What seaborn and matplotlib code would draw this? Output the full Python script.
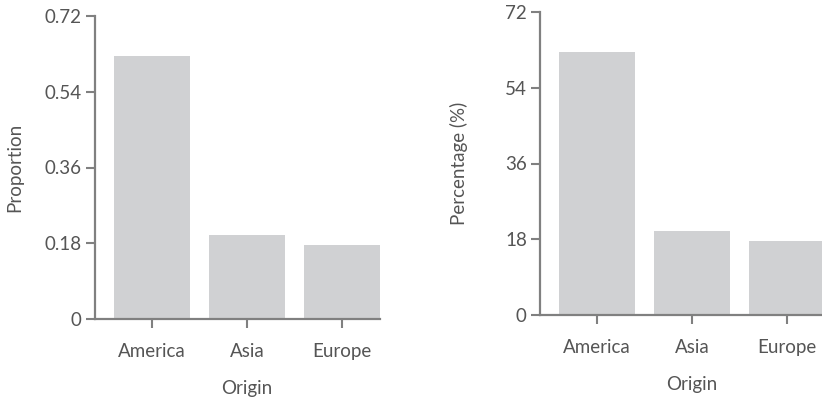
import matplotlib
matplotlib.use("Agg")
import matplotlib.pyplot as plt
import pandas as pd
import seaborn as sns

origins = ["America", "Asia", "Europe"]
proportion = [0.6256, 0.1985, 0.1759]
percentage = [62.56, 19.85, 17.59]

prop_ticks = [0, 0.18, 0.36, 0.54, 0.72]
prop_labels = ["0", "0.18", "0.36", "0.54", "0.72"]
pct_ticks = [0, 18, 36, 54, 72]
pct_labels = ["0", "18", "36", "54", "72"]

sns.set_theme(style="ticks")
plt.rcParams["font.family"] = ["Lato", "DejaVu Sans"]

bar_color = "#d0d1d3"
axis_color = "#808080"
text_color = "#555555"

df = pd.DataFrame({"Origin": origins, "Proportion": proportion, "Percentage": percentage})

fig = plt.figure(figsize=(8.22, 4.0), dpi=100)
ax1 = fig.add_axes([0.1156, 0.2025, 0.3698, 0.7575])
ax2 = fig.add_axes([0.657, 0.2125, 0.3698, 0.7575])

panels = [
    (ax1, "Proportion", "Proportion", prop_ticks, prop_labels),
    (ax2, "Percentage", "Percentage (%)", pct_ticks, pct_labels),
]

for ax, col, ylabel, ticks, labels in panels:
    sns.barplot(data=df, x="Origin", y=col, color=bar_color, saturation=1,
                width=0.8, linewidth=0, ax=ax)
    ax.set_xlim(-0.6, 2.6)
    ax.set_ylim(ticks[0], ticks[-1])
    ax.set_yticks(ticks)
    ax.set_yticklabels(labels)
    ax.set_ylabel(ylabel, fontsize=13.5, color=text_color)
    ax.yaxis.set_label_coords(-0.237, 0.5)
    ax.set_xlabel("Origin", fontsize=13.5, color=text_color, labelpad=14)
    for side in ["top", "right"]:
        ax.spines[side].set_visible(False)
    for side in ["left", "bottom"]:
        ax.spines[side].set_color(axis_color)
        ax.spines[side].set_linewidth(1.6)
    ax.spines["bottom"].set_bounds(-0.6, 2.4)
    ax.tick_params(axis="both", length=6.5, width=1.5, color=axis_color,
                   labelsize=13.5, labelcolor=text_color, pad=3)
    ax.tick_params(axis="x", pad=11)
    ax.set_facecolor("white")

fig.savefig("out.png", dpi=100)
